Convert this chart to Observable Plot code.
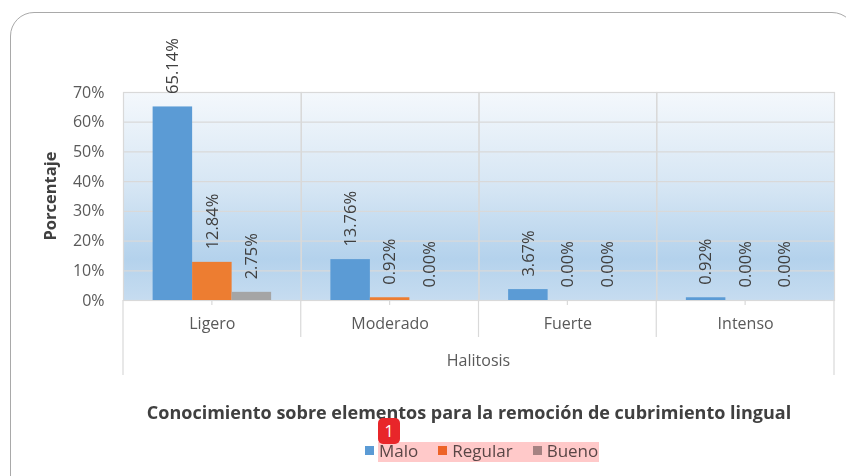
<!DOCTYPE html>
<html>
<head>
<meta charset="utf-8">
<script src="https://cdn.jsdelivr.net/npm/d3@7"></script>
<script src="https://cdn.jsdelivr.net/npm/@observablehq/plot@0.6"></script>
<style>
  html, body { margin: 0; padding: 0; background: #fff; }
  #root { position: relative; width: 846px; height: 476px; overflow: hidden; font-family: "Open Sans", sans-serif; }
  .card { position: absolute; left: 10px; top: 12px; width: 846px; height: 520px; border: 1.3px solid #a9a9a9; border-radius: 24px; box-sizing: border-box; }
  #chart { position: absolute; left: 0; top: 0; }
  .title { position: absolute; left: 469px; top: 400px; transform: translateX(-50%); white-space: nowrap; font-weight: 700; font-size: 18px; color: #404040; }
  .legend { position: absolute; left: 365px; top: 439px; display: flex; align-items: center; font-size: 17px; color: #595959; white-space: nowrap; }
  .sw { display: inline-block; width: 9px; height: 9px; margin-right: 5px; }
  .item { display: flex; align-items: center; }
  .hl { position: absolute; left: 378px; top: 442px; width: 221px; height: 20px; background: #ffc9c9; mix-blend-mode: multiply; }
  .badge { position: absolute; left: 378px; top: 418px; width: 22px; height: 26px; background: #e8262a; border-radius: 5px; color: #fff; font-size: 16px; text-align: center; line-height: 26px; font-family: "Open Sans", sans-serif; }
</style>
</head>
<body>
<div id="root">
  <div class="card"></div>
  <div id="chart"></div>
  <div class="title" id="title"></div>
  <div class="legend" id="legend"></div>
  <div class="hl"></div>
  <div class="badge">1</div>
</div>
<script>
// ---- data ----
const categories = ["Ligero", "Moderado", "Fuerte", "Intenso"];
const series = ["Malo", "Regular", "Bueno"];
const malo = [0.6514, 0.1376, 0.0367, 0.0092];
const regular = [0.1284, 0.0092, 0.0, 0.0];
const bueno = [0.0275, 0.0, 0.0, 0.0];
const seriesColors = ["#5b9bd5", "#ed7d31", "#a5a5a5"];
const yTicks = [0, 0.1, 0.2, 0.3, 0.4, 0.5, 0.6, 0.7];
const xTitle = "Halitosis";
const yTitle = "Porcentaje";
const chartTitle = "Conocimiento sobre elementos para la remoción de cubrimiento lingual";

const valuesBySeries = [malo, regular, bueno];
const data = [];
categories.forEach((c, i) => series.forEach((s, j) => data.push({cat: c, series: s, value: valuesBySeries[j][i]})));

const W = 846, H = 392;
const mL = 123, mR = 12, mT = 92, mB = 92;

const plot = Plot.plot({
  width: W, height: H,
  marginLeft: mL, marginRight: mR, marginTop: mT, marginBottom: mB,
  style: {fontFamily: "Open Sans, sans-serif", fontSize: "16px", color: "#595959", background: "transparent", overflow: "visible"},
  fx: {domain: categories, padding: 0, round: false, axis: "bottom", tickSize: 0, tickPadding: 17, label: null},
  x: {domain: series, paddingInner: 0, paddingOuter: 0.75, round: false, axis: null},
  y: {domain: [0, 0.7], ticks: yTicks, tickFormat: d3.format(".0%"), tickSize: 0, tickPadding: 19, label: null},
  color: {domain: series, range: seriesColors},
  marks: [
    Plot.frame({fill: "url(#bgGrad)", stroke: null}),
    Plot.gridY(yTicks, {stroke: "#d9d9d9", strokeOpacity: 1, strokeWidth: 1.2}),
    Plot.frame({stroke: "#d9d9d9", strokeWidth: 1.2}),
    Plot.barY(data, {fx: "cat", x: "series", y: "value", fill: "series"}),
    Plot.text(data, {fx: "cat", x: "series", y: "value", text: d => d3.format(".2%")(d.value),
      rotate: -90, textAnchor: "start", dy: -13, fill: "#404040", fontSize: 16.5})
  ]
});

document.getElementById("chart").appendChild(plot);

// gradient background
const svg = d3.select(plot);
const defs = svg.insert("defs", ":first-child");
const g = defs.append("linearGradient").attr("id", "bgGrad").attr("x1", 0).attr("y1", 0).attr("x2", 0).attr("y2", 1);
[[0, "#f4f8fc"], [0.45, "#d6e6f4"], [0.8, "#b4d2ec"], [1, "#c6dcf0"]].forEach(([o, c]) =>
  g.append("stop").attr("offset", o).attr("stop-color", c));

// category dividers and ticks below plot area
const plotW = W - mL - mR;
const step = plotW / categories.length;
const base = H - mB;
const lines = svg.append("g").attr("stroke", "#d9d9d9").attr("stroke-width", 1.2);
for (let i = 0; i <= categories.length; i++) {
  const x = mL + i * step;
  const outer = (i === 0 || i === categories.length);
  lines.append("line").attr("x1", x).attr("x2", x).attr("y1", base).attr("y2", base + (outer ? 75 : 37));
}
for (let i = 0; i < categories.length; i++) {
  const x = mL + (i + 0.5) * step;
  lines.append("line").attr("x1", x).attr("x2", x).attr("y1", base).attr("y2", base + 5);
}

// axis titles
svg.append("text").attr("x", mL + plotW / 2).attr("y", base + 62).attr("text-anchor", "middle")
  .attr("dominant-baseline", "middle").attr("fill", "#595959").attr("font-size", 16).text(xTitle);
svg.append("text").attr("transform", `translate(52,${mT + (base - mT) / 2}) rotate(-90)`)
  .attr("text-anchor", "middle").attr("dominant-baseline", "middle")
  .attr("fill", "#404040").attr("font-size", 16.5).attr("font-weight", 700).text(yTitle);

// title and legend
document.getElementById("title").textContent = chartTitle;
const leg = d3.select("#legend");
series.forEach((s, j) => {
  const it = leg.append("div").attr("class", "item").style("margin-right", j < series.length - 1 ? "20px" : "0");
  it.append("span").attr("class", "sw").style("background", seriesColors[j]);
  it.append("span").text(s);
});
</script>
</body>
</html>
